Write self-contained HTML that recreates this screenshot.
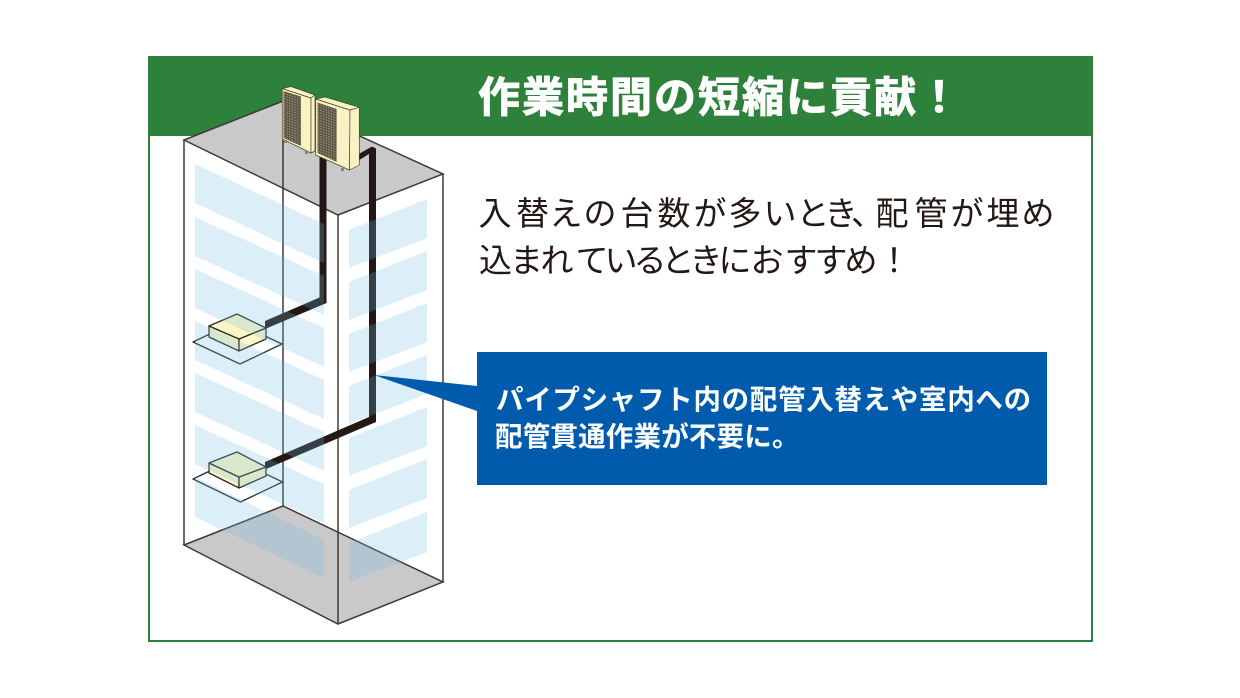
<!DOCTYPE html>
<html lang="ja"><head><meta charset="utf-8"><title>作業時間の短縮に貢献</title>
<style>html,body{margin:0;padding:0;background:#fff}svg{display:block}
text{font-family:"Liberation Sans","Noto Sans CJK JP",sans-serif}</style></head>
<body>
<svg xmlns="http://www.w3.org/2000/svg" width="1240" height="698" viewBox="0 0 1240 698">
<defs>
<pattern id="g" width="2.6" height="2.6" patternUnits="userSpaceOnUse" patternTransform="skewY(18)">
<rect width="2.6" height="2.6" fill="#5d5545"/><rect x=".6" y=".6" width="1.2" height="1.2" fill="#a89f80"/>
</pattern>
</defs>
<rect x="149" y="57" width="943" height="584" fill="#fff" stroke="#2e813b" stroke-width="2"/>
<rect x="148" y="56" width="945" height="80" fill="#2e813b"/>

<polygon points="184,545 283,506 443,582 338,624" fill="#c9c9ca"/>
<polygon points="184,140 283,101 443,174 338,215" fill="#c9c9ca"/>
<g fill="none" stroke="#3f3836" stroke-width="1.5" stroke-linejoin="miter">
<polygon points="184,545 283,506 443,582 338,624"/>
<polygon points="184,140 283,101 443,174 338,215"/>
<path d="M184,140V545M338,215V624M443,174V582M283,140V506"/>
</g>

<g fill="#231815">
<polygon points="319.500,150 326.500,150 326.500,303 265,329 265,321 319.500,297.500"/>
<polygon points="356,155.500 372,146.500 376,148.500 376,422 265,469.500 265,462 369,417 369,154 356,162"/>
</g>

<g stroke="#2c2c2c" stroke-width="1.3" stroke-linejoin="round">
<polygon points="193,342 235,322 282,344 240,364" fill="none"/>
<polygon points="193,479 235,459 282.500,482 240.500,502" fill="none"/>
<polygon points="209,326 239,339 239,351 209,337" fill="#fbf6c5"/>
<polygon points="239,339 266,328 266,339 239,351" fill="#fbf6c5"/>
<polygon points="209,326 237,314 266,328 239,339" fill="#fbf6c5"/>
<polygon points="209,463 239,477 239,488 209,473" fill="#fbf6c5"/>
<polygon points="239,477 266,467 266,476 239,488" fill="#fbf6c5"/>
<polygon points="209,463 237,452 266,467 239,477" fill="#fbf6c5"/>
</g>

<g fill="rgb(112,186,226)" fill-opacity=".245">
<polygon points="195,164 324,224 324,263 195,203"/>
<polygon points="195,217 324,276 324,315 195,256"/>
<polygon points="195,269 324,328 324,367 195,308"/>
<polygon points="195,321 324,380 324,419 195,360"/>
<polygon points="195,373 324,432 324,471 195,412"/>
<polygon points="195,425 324,484 324,523 195,464"/>
<polygon points="195,477 324,540 324,578 195,517"/>
<polygon points="349,230 427,199 427,238 349,268"/>
<polygon points="349,282 427,251 427,290 349,320"/>
<polygon points="349,334 427,303 427,342 349,372"/>
<polygon points="349,386 427,355 427,394 349,424"/>
<polygon points="349,438 427,407 427,446 349,476"/>
<polygon points="349,490 427,459 427,498 349,528"/>
<polygon points="349,543 427,512 427,552 349,582"/>
</g>

<g stroke="#4a4430" stroke-width=".7" stroke-linejoin="round">
<polygon points="282.300,88.500 311,98 311,153 282.300,139" fill="#f9f3c3"/>
<polygon points="282.300,88.500 291,86.500 315,95 311,98" fill="#f9f3c3"/>
<polygon points="311,98 315,95 315,151 311,153" fill="#f9f3c3"/>
<polygon points="283.500,91 301,96.500 301,146 283.500,138" fill="url(#g)" stroke="none"/>
<polygon points="315.700,99 350,110 349.500,170 315.700,155" fill="#f9f3c3"/>
<polygon points="315.700,99 325,97 359.300,107.300 350,110" fill="#f9f3c3"/>
<polygon points="350,110 359.300,107.300 359.300,165 349.500,170" fill="#f9f3c3"/>
<polygon points="317.500,102.500 336.700,109 336.700,162 317.500,153" fill="url(#g)" stroke="none"/>
</g>
<g fill="#8a8576">
<rect x="284" y="140" width="3" height="3"/><rect x="305" y="151" width="3" height="3"/>
<rect x="341" y="168" width="3" height="3"/>
</g>

<polygon points="374,375 477,386 477,411" fill="#005bac"/>
<rect x="477" y="352" width="570" height="133" fill="#005bac"/>

<text x="478" y="112" fill="#fff" font-size="42" font-weight="700" stroke="#fff" stroke-width="1" letter-spacing="2">作業時間の短縮に貢献！</text>
<text x="478.500 516 549.500 583.500 620.500 657.500 693.500 728.500 763.500 796.500 824.500 851 875.500 914.500 950.500 986.500 1021.500" y="225" fill="#231815" font-size="33">入替えの台数が多いとき、配管が埋め</text>
<text x="479 510 540.500 575.500 604.500 633.500 661.500 689.500 718.500 750.500 784.500 814.500 844.500 877.500" y="272" fill="#231815" font-size="33">込まれているときにおすすめ！</text>
<text x="496" y="409" fill="#fff" font-size="27.500" font-weight="700" letter-spacing=".7">パイプシャフト内の配管入替えや室内への</text>
<text x="495" y="446" fill="#fff" font-size="27.500" font-weight="700" letter-spacing=".2">配管貫通作業が不要に。</text>
</svg>
</body></html>
